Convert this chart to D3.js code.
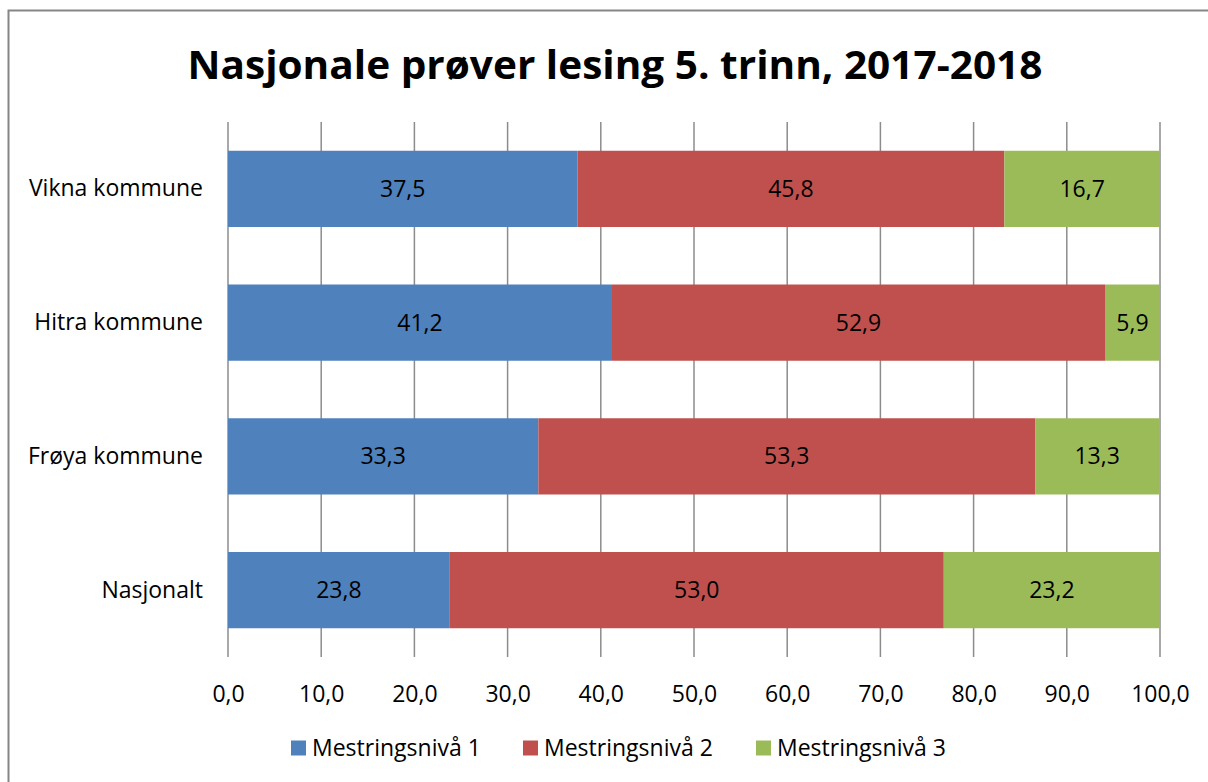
<!DOCTYPE html>
<html>
<head>
<meta charset="utf-8">
<script src="https://cdn.jsdelivr.net/npm/d3@7"></script>
<style>
  html, body { margin: 0; padding: 0; background: #fff; }
  svg { display: block; font-family: "Open Sans", "Noto Sans", sans-serif; }
</style>
</head>
<body>
<div id="chart"></div>
<script>
// Chart data
const categories = ['Vikna kommune', 'Hitra kommune', 'Frøya kommune', 'Nasjonalt'];
const seriesNames = ['Mestringsnivå 1', 'Mestringsnivå 2', 'Mestringsnivå 3'];
const niva1 = [37.5, 41.2, 33.3, 23.8];
const niva2 = [45.8, 52.9, 53.3, 53.0];
const niva3 = [16.7, 5.9, 13.3, 23.2];
const xTicks = [0, 10, 20, 30, 40, 50, 60, 70, 80, 90, 100];
const colors = ['#4F81BD', '#C0504D', '#9BBB59'];

const width = 1208, height = 782;
const margin = { top: 122, right: 48, bottom: 125, left: 228 };
const fontSize = 23;

const svg = d3.select('#chart')
    .append('svg')
    .attr('width', width)
    .attr('height', height);

// Outer chart border (runs off the right and bottom edges)
svg.append('rect')
    .attr('x', 8.5).attr('y', 10.5)
    .attr('width', width + 20).attr('height', height + 20)
    .attr('fill', 'none')
    .attr('stroke', '#868686')
    .attr('stroke-width', 2);

// Title
svg.append('text')
    .attr('x', 615).attr('y', 79)
    .attr('text-anchor', 'middle')
    .attr('font-size', 40)
    .attr('font-weight', 'bold')
    .attr('fill', '#000')
    .attr('textLength', 855)
    .attr('lengthAdjust', 'spacingAndGlyphs')
    .text('Nasjonale prøver lesing 5. trinn, 2017-2018');

const x = d3.scaleLinear()
    .domain([0, 100])
    .range([margin.left, width - margin.right]);

const y = d3.scaleBand()
    .domain(categories)
    .range([margin.top, height - margin.bottom])
    .paddingInner(0.43)
    .paddingOuter(0.215);

// Vertical gridlines
svg.append('g')
    .selectAll('line')
    .data(xTicks)
    .enter()
    .append('line')
    .attr('x1', d => x(d)).attr('x2', d => x(d))
    .attr('y1', margin.top).attr('y2', 657)
    .attr('stroke', '#8c8c8c')
    .attr('stroke-width', 1.5);

// X axis tick labels
const xAxis = d3.axisBottom(x)
    .tickValues(xTicks)
    .tickSize(0)
    .tickPadding(0)
    .tickFormat(d => d3.format('.1f')(d).replace('.', ','));

const gx = svg.append('g')
    .attr('transform', `translate(0, ${height - margin.bottom + 38})`)
    .call(xAxis);
gx.select('.domain').remove();
gx.selectAll('text')
    .attr('font-size', fontSize)
    .attr('font-family', '"Open Sans", sans-serif')
    .attr('fill', '#000')
    .attr('dy', '0.32em');

// Category labels
const yAxis = d3.axisLeft(y).tickSize(0).tickPadding(25);
const gy = svg.append('g')
    .attr('transform', `translate(${margin.left}, 0)`)
    .call(yAxis);
gy.select('.domain').remove();
gy.selectAll('text')
    .attr('font-size', fontSize)
    .attr('font-family', '"Open Sans", sans-serif')
    .attr('fill', '#000');

// Stacked data
const rows = categories.map((c, i) => ({
    cat: c, s0: niva1[i], s1: niva2[i], s2: niva3[i]
}));
const stack = d3.stack().keys(['s0', 's1', 's2']);
const stacked = stack(rows);

const layers = svg.append('g')
    .selectAll('g')
    .data(stacked)
    .enter()
    .append('g')
    .attr('fill', (d, i) => colors[i]);

layers.selectAll('rect')
    .data(d => d)
    .enter()
    .append('rect')
    .attr('x', d => x(d[0]))
    .attr('y', d => y(d.data.cat))
    .attr('width', d => x(d[1]) - x(d[0]))
    .attr('height', y.bandwidth());

// Data labels
layers.selectAll('text')
    .data(d => d)
    .enter()
    .append('text')
    .attr('x', d => (x(d[0]) + x(d[1])) / 2)
    .attr('y', d => y(d.data.cat) + y.bandwidth() / 2)
    .attr('dy', '0.35em')
    .attr('text-anchor', 'middle')
    .attr('font-size', fontSize)
    .attr('fill', '#000')
    .text(d => d3.format('.1f')(d[1] - d[0]).replace('.', ','));

// Legend
const legendX = [291, 523, 756];
const legend = svg.append('g')
    .selectAll('g')
    .data(seriesNames)
    .enter()
    .append('g')
    .attr('transform', (d, i) => `translate(${legendX[i]}, 748)`);

legend.append('rect')
    .attr('x', 0).attr('y', -7.5)
    .attr('width', 15).attr('height', 15)
    .attr('fill', (d, i) => colors[i]);

legend.append('text')
    .attr('x', 21)
    .attr('dy', '0.35em')
    .attr('font-size', fontSize)
    .attr('fill', '#000')
    .text(d => d);
</script>
</body>
</html>
